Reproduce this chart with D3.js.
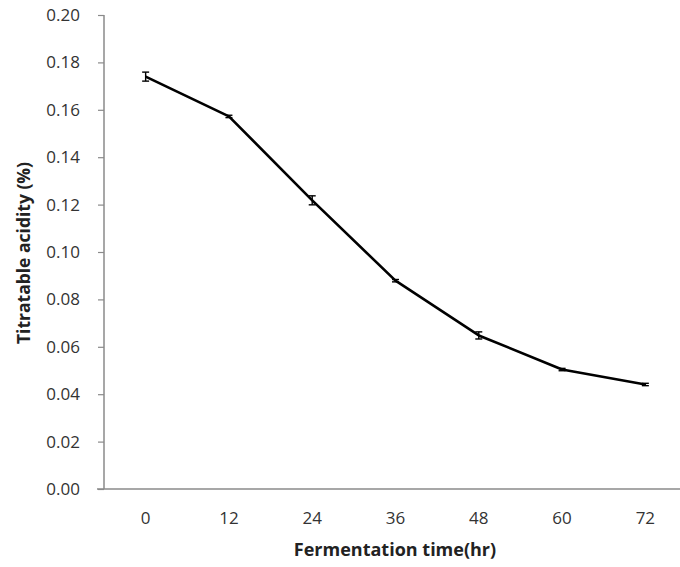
<!DOCTYPE html>
<html><head><meta charset="utf-8">
<script src="https://cdn.jsdelivr.net/npm/d3@7"></script>
<style>
body{margin:0;background:#fff;}
svg{display:block;}
</style></head>
<body>
<script>
const categories = ["0","12","24","36","48","60","72"];
const acidity = [0.174, 0.1572, 0.1218, 0.0879, 0.0648, 0.0504, 0.0441];
const errors = [0.0019, 0.0005, 0.0019, 0.0005, 0.0015, 0.0005, 0.0005];
const yTicks = [0,0.02,0.04,0.06,0.08,0.10,0.12,0.14,0.16,0.18,0.20];

const W=680,H=567;
const svg=d3.select("body").append("svg").attr("width",W).attr("height",H);
const x=d3.scaleBand().domain(categories).range([104,687]);
const y=d3.scaleLinear().domain([0,0.2]).range([489,15]);
const font="'Open Sans', 'DejaVu Sans', sans-serif";

// y axis
const ya=svg.append("g").attr("transform","translate(104,0)")
  .call(d3.axisLeft(y).tickValues(yTicks).tickFormat(d3.format(".2f")).tickSize(6).tickPadding(18));
ya.select(".domain").attr("stroke","#8a8a8a").attr("stroke-width",1.5).attr("d","M0,15V489");
ya.selectAll(".tick line").attr("stroke","#8a8a8a").attr("stroke-width",1.2);
ya.selectAll(".tick text").attr("fill","#333").style("font-family",font).style("font-size","17px");

// x axis
const xa=svg.append("g").attr("transform","translate(0,489)")
  .call(d3.axisBottom(x).tickSize(0).tickPadding(23));
xa.select(".domain").attr("stroke","#8a8a8a").attr("stroke-width",1.5).attr("d","M97,0H680");
xa.selectAll(".tick text").attr("fill","#333").style("font-family",font).style("font-size","17px");

// line
const cx=d=>x(d)+x.bandwidth()/2;
const line=d3.line().x((d,i)=>cx(categories[i])).y(d=>y(d));
svg.append("path").datum(acidity).attr("d",line).attr("fill","none")
  .attr("stroke","#000").attr("stroke-width",2.6).attr("stroke-linejoin","round");

// error bars
const eb=svg.append("g").attr("stroke","#000").attr("stroke-width",1.4);
categories.forEach((c,i)=>{
  const X=cx(c),y1=y(acidity[i]+errors[i]),y2=y(acidity[i]-errors[i]);
  eb.append("line").attr("x1",X).attr("x2",X).attr("y1",y1).attr("y2",y2);
  eb.append("line").attr("x1",X-3.5).attr("x2",X+3.5).attr("y1",y1).attr("y2",y1);
  eb.append("line").attr("x1",X-3.5).attr("x2",X+3.5).attr("y1",y2).attr("y2",y2);
});

// axis titles
svg.append("text").attr("x",395).attr("y",556).attr("text-anchor","middle")
  .style("font-family",font).style("font-size","18px").style("font-weight","bold").attr("fill","#222")
  .text("Fermentation time(hr)");
svg.append("text").attr("transform","translate(30,253) rotate(-90)").attr("text-anchor","middle")
  .style("font-family",font).style("font-size","17.5px").style("font-weight","bold").attr("fill","#222")
  .text("Titratable acidity (%)");
</script>
</body></html>
